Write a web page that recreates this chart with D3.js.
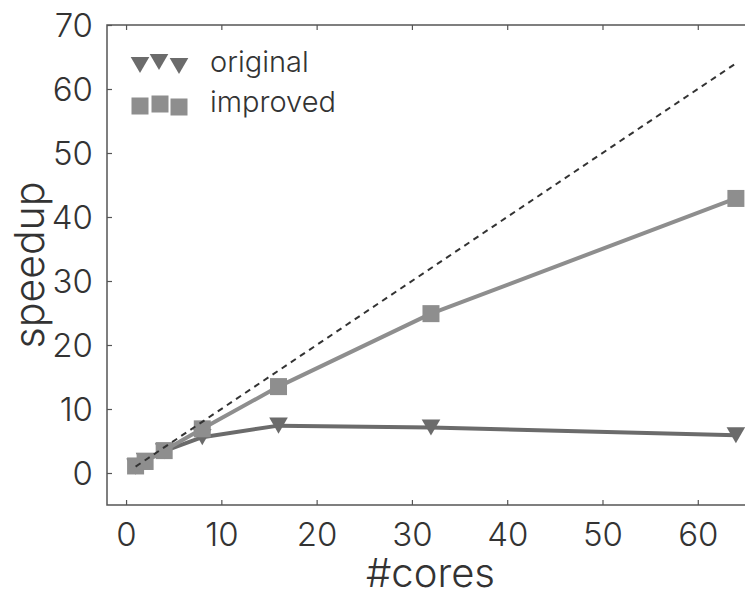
<!DOCTYPE html>
<html>
<head>
<meta charset="utf-8">
<script src="https://cdn.jsdelivr.net/npm/d3@7"></script>
<style>
  html, body { margin: 0; padding: 0; background: #fff; }
  svg { display: block; font-family: "Inter", "Roboto", "Noto Sans", sans-serif; font-weight: 300; }
</style>
</head>
<body>
<svg id="chart" width="745" height="594"></svg>
<script>
// Speedup measurements per core count
const cores = [1, 2, 4, 8, 16, 32, 64];
const original = [1.0, 1.9, 3.4, 5.6, 7.4, 7.1, 5.9];
const improved = [1.1, 1.8, 3.5, 6.9, 13.5, 24.9, 42.9];
const idealCores = [1, 64];
const xTicks = [0, 10, 20, 30, 40, 50, 60];
const yTicks = [0, 10, 20, 30, 40, 50, 60, 70];
const seriesNames = ["original", "improved"];

(function () {
const svg = d3.select("#chart");
const mLeft = 107, mTop = 25, mBottom = 505, mRight = 754;

const x = d3.scaleLinear().domain([-2, 65.9]).range([mLeft, mRight]);
const y = d3.scaleLinear().domain([-5, 70]).range([mBottom, mTop]);

const axisColor = "#555";
const textColor = "#333";

// frame
svg.append("rect")
  .attr("x", mLeft).attr("y", mTop)
  .attr("width", mRight - mLeft).attr("height", mBottom - mTop)
  .attr("fill", "none").attr("stroke", axisColor).attr("stroke-width", 1.5);

// axes with inward ticks
const gx = svg.append("g").attr("transform", `translate(0,${mBottom})`)
  .call(d3.axisBottom(x).tickValues(xTicks).tickSizeInner(-5).tickSizeOuter(0).tickPadding(18));
const gxt = svg.append("g").attr("transform", `translate(0,${mTop})`)
  .call(d3.axisTop(x).tickValues(xTicks).tickSizeInner(-5).tickSizeOuter(0).tickFormat(""));
const gy = svg.append("g").attr("transform", `translate(${mLeft},0)`)
  .call(d3.axisLeft(y).tickValues(yTicks).tickSizeInner(-5).tickSizeOuter(0).tickPadding(14));

[gx, gxt, gy].forEach(g => {
  g.select(".domain").remove();
  g.selectAll(".tick line").attr("stroke", axisColor).attr("stroke-width", 1.2);
  g.selectAll(".tick text")
    .attr("fill", textColor)
    .style("font-size", "33px")
    .style("font-family", "Inter, Roboto, 'Noto Sans', sans-serif")
    .style("font-weight", 300);
});
gx.selectAll(".tick text").attr("dy", "0.71em");
gy.selectAll(".tick text").attr("dy", "0.36em");

// axis titles
svg.append("text")
  .attr("x", (mLeft + mRight) / 2).attr("y", 587)
  .attr("text-anchor", "middle")
  .attr("fill", textColor).style("font-size", "40px")
  .text("#cores");
svg.append("text")
  .attr("transform", `translate(44,${(mTop + mBottom) / 2}) rotate(-90)`)
  .attr("text-anchor", "middle")
  .attr("fill", textColor).style("font-size", "41px")
  .text("speedup");

const line = d3.line().x(d => x(d[0])).y(d => y(d[1]));
const triArea = 150;
const triangle = d3.symbol().type(d3.symbolTriangle).size(triArea);
// shift so the downward triangle's bounding box is centred on its point
const triSide = Math.sqrt(triArea * 4 / Math.sqrt(3));
const triShift = (triSide * Math.sqrt(3) / 2) / 6;

const plot = svg.append("g");
const origColor = "#6b6b6b";
const impColor = "#8e8e8e";

// original series
const origData = cores.map((c, i) => [c, original[i]]);
plot.append("path").datum(origData)
  .attr("d", line).attr("fill", "none")
  .attr("stroke", origColor).attr("stroke-width", 4).attr("stroke-linejoin", "round");
plot.selectAll(".tri").data(origData).enter().append("path")
  .attr("d", triangle)
  .attr("transform", d => `translate(${x(d[0])},${y(d[1]) - triShift}) rotate(180)`)
  .attr("fill", origColor);

// improved series
const impData = cores.map((c, i) => [c, improved[i]]);
const sq = 17;
plot.append("path").datum(impData)
  .attr("d", line).attr("fill", "none")
  .attr("stroke", impColor).attr("stroke-width", 4).attr("stroke-linejoin", "round");
plot.selectAll(".sq").data(impData).enter().append("rect")
  .attr("x", d => x(d[0]) - sq / 2).attr("y", d => y(d[1]) - sq / 2)
  .attr("width", sq).attr("height", sq)
  .attr("fill", impColor);

// ideal linear speedup
plot.append("path").datum(idealCores.map(c => [c, c]))
  .attr("d", line).attr("fill", "none")
  .attr("stroke", "#333").attr("stroke-width", 2).attr("stroke-dasharray", "6,5");

// legend
const legend = svg.append("g");
const triOffsets = [[140, 65], [159, 62], [179, 66]];
triOffsets.forEach(p => {
  legend.append("path").attr("d", triangle)
    .attr("transform", `translate(${p[0]},${p[1] - triShift}) rotate(180)`)
    .attr("fill", origColor);
});
const sqOffsets = [[140, 106], [160, 104], [179, 107]];
sqOffsets.forEach(p => {
  legend.append("rect")
    .attr("x", p[0] - sq / 2).attr("y", p[1] - sq / 2)
    .attr("width", sq).attr("height", sq).attr("fill", impColor);
});
legend.append("text").attr("x", 210).attr("y", 72)
  .attr("fill", textColor).style("font-size", "29px").text(seriesNames[0]);
legend.append("text").attr("x", 210).attr("y", 112)
  .attr("fill", textColor).style("font-size", "29px").text(seriesNames[1]);
})();
</script>
</body>
</html>
